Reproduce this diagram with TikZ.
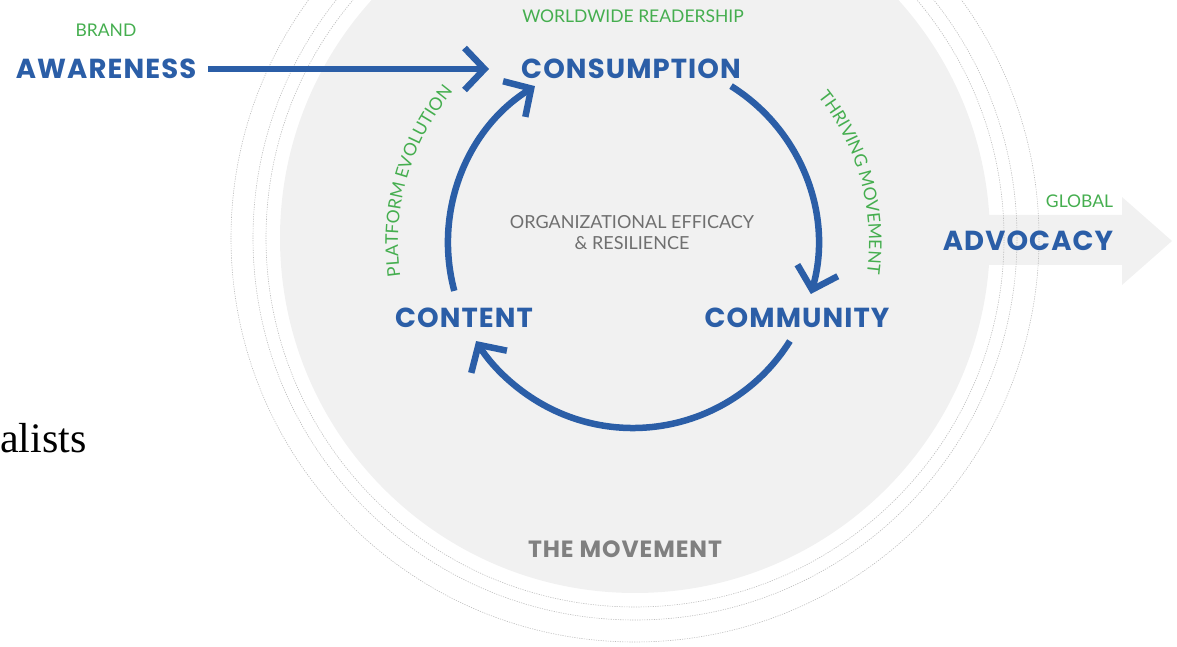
\documentclass[tikz,border=0pt]{standalone}
\usepackage{fontspec}
\setmainfont{Lato}
\newfontfamily\headfont{Poppins}[LetterSpace=4]
\newfontfamily\serifbody{Liberation Serif}
\usetikzlibrary{positioning,calc,arrows.meta,decorations.text}
\definecolor{inkblue}{HTML}{2B5EA7}
\definecolor{leaf}{HTML}{45AE4F}
\definecolor{slate}{HTML}{6F6F6F}
\definecolor{mist}{HTML}{F1F1F1}
\definecolor{dotline}{HTML}{BDBDBD}
\newcommand{\tagfont}{\fontsize{17.5}{20}\selectfont}

\begin{document}
\begin{tikzpicture}[x=1pt, y=1pt, >={Straight Barb[length=20pt,width=42pt]}, every node/.style={inner sep=0pt}]
\tikzstyle{stage}=[text=inkblue, font=\headfont\bfseries\fontsize{27.5}{30}\selectfont]
\tikzstyle{tag}=[text=leaf, font=\tagfont]
\tikzstyle{flow}=[draw=inkblue, line width=6.5pt]
\tikzstyle{ring}=[draw=dotline, line width=0.6pt, dash pattern=on 1.2pt off 1.2pt]
\useasboundingbox (0,0) rectangle (1177,647);
\coordinate (hub) at (633,404);
\coordinate (disc) at (635,409);
% backdrop
\fill[mist] (900,432) -- (1122,432) -- (1122,450) -- (1172,406) -- (1122,362) -- (1122,382) -- (900,382) -- cycle;
\fill[mist] (disc) circle[radius=355];
\foreach \r in {369,382,404}
  \draw[ring] (disc) circle[radius=\r];
% labels
\node[stage] (awareness) at (106,578) {AWARENESS};
\node[tag, above=22pt of awareness] (brand) {BRAND};
\node[stage] (consumption) at (631,578) {CONSUMPTION};
\node[tag] (readership) at (633,631) {WORLDWIDE READERSHIP};
\node[stage] (content) at (464,329) {CONTENT};
\node[stage] (community) at (797,329) {COMMUNITY};
\node[stage] (advocacy) at (1028,406) {ADVOCACY};
\node[tag, above=23pt of advocacy.north east, anchor=south east] (global) {GLOBAL};
\node[text=slate, font=\fontsize{18}{21}\selectfont, align=center] (efficacy) at (632,414) {ORGANIZATIONAL EFFICACY\\ \& RESILIENCE};
\node[text=gray, font=\headfont\bfseries\fontsize{23.5}{27}\selectfont] (movement) at (625,98) {THE MOVEMENT};
\node[anchor=base west, font=\serifbody\fontsize{42}{48}\selectfont] (alists) at (0,194) {alists};
% cycle
\draw[flow, ->, shorten <=12pt, shorten >=32pt] (awareness) -- (consumption);
\draw[flow, ->] ($(hub)+(195:185)$) arc[start angle=195, end angle=122, radius=185];
\draw[flow, ->] ($(hub)+(58:185)$) arc[start angle=58, end angle=-16, radius=185];
\draw[flow, ->] ($(hub)+(-32:185)$) arc[start angle=-32, end angle=-148, radius=185];
\path[decorate, decoration={text along path, text align=center, text={|\tagfont\color{leaf}|PLATFORM EVOLUTION}}] ($(hub)+(188:235)$) arc[start angle=188, end angle=140, radius=235];
\path[decorate, decoration={text along path, text align=center, text={|\tagfont\color{leaf}|THRIVING MOVEMENT}}] ($(hub)+(40:236)$) arc[start angle=40, end angle=-9, radius=236];
\end{tikzpicture}
\end{document}
